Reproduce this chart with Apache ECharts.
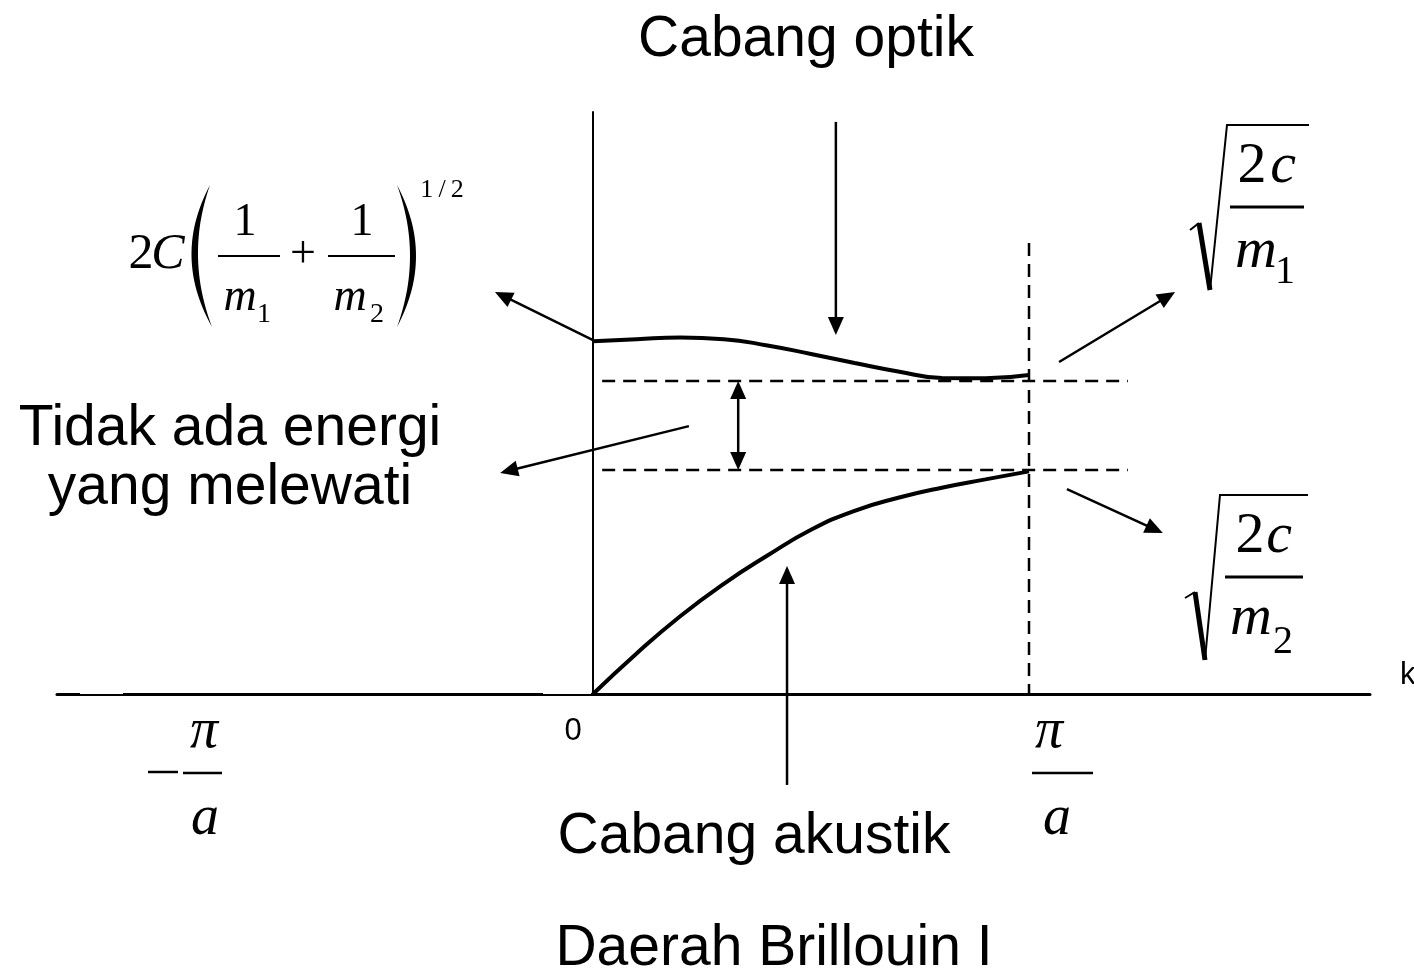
<!DOCTYPE html>
<html>
<head>
<meta charset="utf-8">
<script src="https://cdn.jsdelivr.net/npm/echarts@6/dist/echarts.min.js"></script>
<style>
  html, body { margin: 0; padding: 0; background: #ffffff; }
  #chart { width: 1414px; height: 976px; }
</style>
</head>
<body>
<div id="chart"></div>
<script>
// Wave number k, in units of pi/a (first Brillouin zone ends at k = 1)
const kSamples = [0, 0.1, 0.2, 0.3, 0.4, 0.5, 0.6, 0.7, 0.8, 0.9, 1.0];
// Frequency of the optical branch, in units of sqrt(2C/m2)
const opticalOmega = [1.575, 1.584, 1.591, 1.584, 1.556, 1.518, 1.478, 1.440, 1.411, 1.410, 1.424];
// Frequency of the acoustic branch, same units
const acousticOmega = [0, 0.181, 0.347, 0.492, 0.618, 0.733, 0.818, 0.876, 0.921, 0.958, 0.994];
// Band-gap edges: sqrt(2C/m2) (lower) and sqrt(2C/m1) (upper)
const gapLevels = [1.0, 1.397];
// Zone boundary k = pi/a and the extent of the dashed guides
const zoneEdge = 1.0;
const zoneLineTop = 2.013;
const gapGuideSpan = [0.021, 1.227];
// Annotation arrows: [kFrom, wFrom, kTo, wTo, heads]
const arrows = [
  [0, 1.580, -0.225, 1.795, 1],      // to the omega(k=0) expression
  [0.557, 2.554, 0.557, 1.603, 1],   // "Cabang optik"
  [0.333, 1.0, 0.333, 1.397, 2],     // band gap width
  [0.220, 1.196, -0.213, 0.987, 1],  // "Tidak ada energi yang melewati"
  [0.445, -0.406, 0.445, 0.571, 1],  // "Cabang akustik"
  [1.069, 1.482, 1.335, 1.795, 1],   // sqrt(2c/m1)
  [1.087, 0.915, 1.307, 0.719, 1]    // sqrt(2c/m2)
];

const zip = (xs, ys) => xs.map((x, i) => [x, ys[i]]);

const guides = [
  [gapGuideSpan[0], gapLevels[1], gapGuideSpan[1], gapLevels[1]],
  [gapGuideSpan[0], gapLevels[0], gapGuideSpan[1], gapLevels[0]],
  [zoneEdge, zoneLineTop, zoneEdge, 0]
];

const SERIF = '"Liberation Serif", "Times New Roman", serif';
const SANS = '"Liberation Sans", Arial, sans-serif';

// text placed by its baseline
function T(text, x, base, size, opts) {
  opts = opts || {};
  const align = opts.align || 'center';
  return {
    type: 'text', x: x, y: base - 0.31 * size, silent: true,
    style: {
      text: text, fill: '#000',
      fontSize: size, fontFamily: opts.sans ? SANS : SERIF,
      fontStyle: opts.italic ? 'italic' : 'normal',
      align: align, textAlign: align,
      verticalAlign: 'middle', textVerticalAlign: 'middle'
    }
  };
}
function L(x1, y1, x2, y2, w) {
  return { type: 'line', silent: true, shape: { x1: x1, y1: y1, x2: x2, y2: y2 },
           style: { stroke: '#000', lineWidth: w || 2, lineCap: 'butt' } };
}
function P(points, w) {
  return { type: 'polyline', silent: true, shape: { points: points },
           style: { stroke: '#000', lineWidth: w || 2, fill: null, lineJoin: 'miter' } };
}
// large bracket: crescent between two quadratic curves sharing the end points
function Paren(xTop, yTop, xBot, yBot, cOuter, cInner) {
  const q = (c, t) => {
    const x = (1 - t) * (1 - t) * xTop + 2 * t * (1 - t) * c + t * t * xBot;
    const y = (1 - t) * (1 - t) * yTop + 2 * t * (1 - t) * ((yTop + yBot) / 2) + t * t * yBot;
    return [x, y];
  };
  const pts = [];
  for (let i = 0; i <= 30; i++) pts.push(q(cOuter, i / 30));
  for (let i = 30; i >= 0; i--) pts.push(q(cInner, i / 30));
  return { type: 'polygon', silent: true, shape: { points: pts }, style: { fill: '#000' } };
}
// thin spots in the k axis line
function Gap(x1, x2) {
  return { type: 'rect', silent: true, z: 1, shape: { x: x1, y: 691.5, width: x2 - x1, height: 2.5 },
           style: { fill: '#fff' } };
}

const formulaParts = [
  Gap(80, 123),
  Gap(543, 591),

  // 2C (1/m1 + 1/m2)^(1/2)
  T('2', 141, 270, 50),
  T('C', 168, 270, 50, { italic: true }),
  Paren(210, 185, 212, 327, 172, 185),
  T('1', 245, 237, 46),
  L(218, 256, 280, 256, 2),
  T('m', 240, 312, 46, { italic: true }),
  T('1', 264, 323, 28),
  T('+', 303, 269, 46),
  T('1', 362, 237, 46),
  L(328, 256, 395, 256, 2),
  T('m', 350, 312, 46, { italic: true }),
  T('2', 377, 323, 28),
  Paren(397, 185, 397, 327, 435, 423),
  T('1\u2009/\u20092', 442, 198, 26),

  // sqrt(2c/m1)
  L(1190, 230, 1199, 223, 2),
  L(1199, 223, 1210, 290, 5),
  P([[1210, 290], [1227, 125], [1309, 125]], 2),
  T('2', 1252, 185, 58),
  T('c', 1283, 185, 58, { italic: true }),
  L(1230, 207, 1304, 207, 3),
  T('m', 1256, 270, 58, { italic: true }),
  T('1', 1285, 285, 40),

  // sqrt(2c/m2)
  L(1185, 598, 1195, 592, 2),
  L(1195, 592, 1205, 660, 5),
  P([[1205, 660], [1220, 495], [1308, 495]], 2),
  T('2', 1250, 555, 58),
  T('c', 1279, 555, 58, { italic: true }),
  L(1225, 577, 1303, 577, 3),
  T('m', 1251, 637, 58, { italic: true }),
  T('2', 1283, 655, 40),

  // pi/a and -pi/a
  T('\u03c0', 1049, 750, 56, { italic: true }),
  L(1032, 773, 1093, 773, 2.5),
  T('a', 1057, 837, 56, { italic: true }),
  L(148, 772, 178, 772, 2.5),
  T('\u03c0', 204, 750, 56, { italic: true }),
  L(183, 773, 222, 773, 2.5),
  T('a', 205, 837, 56, { italic: true }),

  // captions
  T('Cabang optik', 806, 58, 57, { sans: true }),
  T('Tidak ada energi', 230, 447, 57, { sans: true }),
  T('yang melewati', 230, 506, 57, { sans: true }),
  T('Cabang akustik', 754, 855, 57, { sans: true }),
  T('Daerah Brillouin I', 774, 967, 57, { sans: true }),
  T('0', 573, 741, 31, { sans: true }),
  T('k', 1400, 685, 31, { sans: true, align: 'left' })
];

// arrow: shaft plus solid triangular head(s)
function renderArrow(params, api) {
  const a = api.coord([api.value(0), api.value(1)]);
  const b = api.coord([api.value(2), api.value(3)]);
  const both = api.value(4) === 2;
  const dx = b[0] - a[0], dy = b[1] - a[1];
  const len = Math.sqrt(dx * dx + dy * dy);
  const ux = dx / len, uy = dy / len;
  const nx = -uy, ny = ux;
  const HL = 18, HW = 8;
  const head = (tip, sx, sy) => ({
    type: 'polygon',
    shape: { points: [tip,
      [tip[0] - sx * HL + nx * HW, tip[1] - sy * HL + ny * HW],
      [tip[0] - sx * HL - nx * HW, tip[1] - sy * HL - ny * HW]] },
    style: { fill: '#000' }
  });
  const start = both ? [a[0] + ux * (HL - 2), a[1] + uy * (HL - 2)] : a;
  const end = [b[0] - ux * (HL - 2), b[1] - uy * (HL - 2)];
  const children = [
    { type: 'line', shape: { x1: start[0], y1: start[1], x2: end[0], y2: end[1] },
      style: { stroke: '#000', lineWidth: 2.5 } },
    head(b, ux, uy)
  ];
  if (both) children.push(head(a, -ux, -uy));
  return { type: 'group', children: children };
}

function renderGuide(params, api) {
  const a = api.coord([api.value(0), api.value(1)]);
  const b = api.coord([api.value(2), api.value(3)]);
  return {
    type: 'line',
    shape: { x1: a[0], y1: a[1], x2: b[0], y2: b[1] },
    style: { stroke: '#000', lineWidth: 2.5, lineDash: [13, 8] }
  };
}

const chart = echarts.init(document.getElementById('chart'), null, { renderer: 'canvas' });
chart.setOption({
  backgroundColor: '#ffffff',
  animation: false,
  grid: { left: 57, right: 44, top: 112, bottom: 282 },
  xAxis: {
    type: 'value', min: -1.2294, max: 1.7821,
    axisLine: { show: true, onZero: true, lineStyle: { color: '#000', width: 3 } },
    axisTick: { show: false }, axisLabel: { show: false }, splitLine: { show: false }
  },
  yAxis: {
    type: 'value', min: 0, max: 2.5982,
    axisLine: { show: true, onZero: true, lineStyle: { color: '#000', width: 2 } },
    axisTick: { show: false }, axisLabel: { show: false }, splitLine: { show: false }
  },
  series: [
    {
      name: 'guides', type: 'custom', renderItem: renderGuide, clip: false,
      data: guides, silent: true, z: 2
    },
    {
      name: 'Cabang optik', type: 'line', data: zip(kSamples, opticalOmega),
      smooth: 0.5, showSymbol: false, silent: true, z: 3,
      lineStyle: { color: '#000', width: 4 }
    },
    {
      name: 'Cabang akustik', type: 'line', data: zip(kSamples, acousticOmega),
      smooth: 0.5, showSymbol: false, silent: true, z: 3,
      lineStyle: { color: '#000', width: 4 }
    },
    {
      name: 'arrows', type: 'custom', renderItem: renderArrow, clip: false,
      data: arrows, silent: true, z: 4
    }
  ],
  graphic: { elements: formulaParts }
});
</script>
</body>
</html>
